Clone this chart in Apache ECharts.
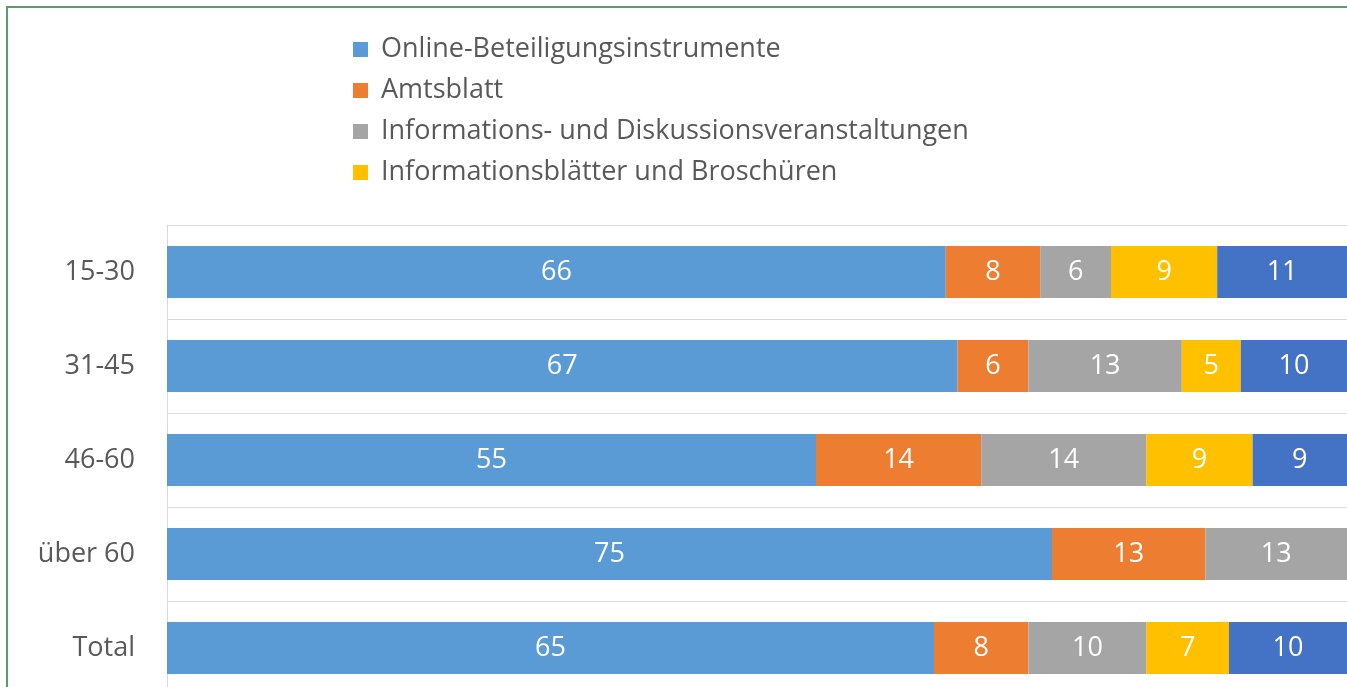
<!DOCTYPE html>
<html>
<head>
<meta charset="utf-8">
<script src="https://cdn.jsdelivr.net/npm/echarts@6/dist/echarts.min.js"></script>
<style>
  html, body { margin: 0; padding: 0; background: #fff; overflow: hidden; }
  #chart { width: 1347px; height: 720px; }
</style>
</head>
<body>
<div id="chart"></div>
<script>
// Altersgruppen (oben nach unten)
const categories = ['15-30', '31-45', '46-60', 'über 60', 'Total']
const seriesNames = [
  'Online-Beteiligungsinstrumente',
  'Amtsblatt',
  'Informations- und Diskussionsveranstaltungen',
  'Informationsblätter und Broschüren',
  'Sonstiges'
]
const online = [66, 67, 55, 75, 65]
const amtsblatt = [8, 6, 14, 13, 8]
const veranstaltungen = [6, 13, 14, 13, 10]
const broschueren = [9, 5, 9, 0, 7]
const sonstiges = [11, 10, 9, 0, 10]

const colors = ['#5B9BD5', '#ED7D31', '#A5A5A5', '#FFC000', '#4472C4']
const values = [online, amtsblatt, veranstaltungen, broschueren, sonstiges]

const chart = echarts.init(document.getElementById('chart'))
const font = '"Open Sans", sans-serif'
const fs = 27

const option = {
  animation: false,
  textStyle: { fontFamily: font },
  graphic: [{
    type: 'rect',
    shape: { x: 7, y: 7, width: 1400, height: 760 },
    style: { fill: 'none', stroke: '#5C9B6C', lineWidth: 2 },
    silent: true
  }],
  legend: {
    orient: 'vertical',
    left: 348,
    top: 31,
    itemWidth: 15,
    itemHeight: 15,
    itemGap: 14,
    icon: 'rect',
    textStyle: { color: '#595959', fontSize: fs, fontFamily: font, padding: [0, 0, 0, 8] },
    data: seriesNames.slice(0, 4)
  },
  grid: {
    left: 167,
    top: 225,
    width: 1182,
    height: 470,
    containLabel: false
  },
  xAxis: {
    type: 'value',
    min: 0,
    max: 100,
    show: false
  },
  yAxis: {
    type: 'category',
    inverse: true,
    data: categories,
    axisLine: { show: true, lineStyle: { color: '#D9D9D9', width: 1 } },
    axisTick: { show: false },
    splitLine: { show: true, lineStyle: { color: '#D9D9D9', width: 1 } },
    axisLabel: { color: '#595959', fontSize: fs, fontFamily: font, margin: 32 }
  },
  series: values.map((data, i) => ({
    name: seriesNames[i],
    type: 'bar',
    stack: 'total',
    barWidth: 52,
    itemStyle: { color: colors[i] },
    label: {
      show: true,
      position: 'inside',
      color: '#fff',
      fontSize: fs,
      fontFamily: font,
      formatter: p => (i === 4 && p.dataIndex === 3) ? '' : p.value
    },
    data: data
  }))
}
chart.setOption(option)
</script>
</body>
</html>
